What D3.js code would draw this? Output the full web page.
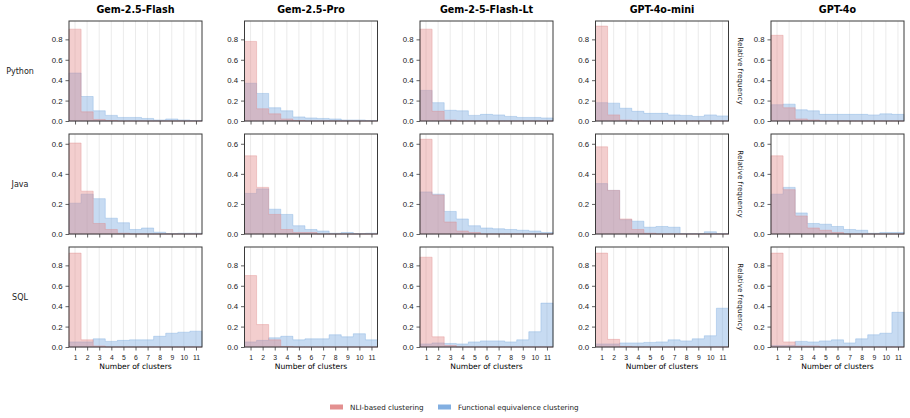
<!DOCTYPE html>
<html>
<head>
<meta charset="utf-8">
<script src="https://cdn.jsdelivr.net/npm/d3@7"></script>
<style>
  body { margin: 0; background: #fff; }
  svg { font-family: "DejaVu Sans", sans-serif; }
  .tick text { fill: #222; }
</style>
</head>
<body>
<div id="chart"></div>
<script>
// -----------------------------
// data
// -----------------------------

const models = ['Gem-2.5-Flash', 'Gem-2.5-Pro', 'Gem-2-5-Flash-Lt', 'GPT-4o-mini', 'GPT-4o']
const languages = ['Python', 'Java', 'SQL']
const bins = [1, 2, 3, 4, 5, 6, 7, 8, 9, 10, 11]
const yTicksByRow = [[0, 0.2, 0.4, 0.6, 0.8], [0, 0.2, 0.4, 0.6], [0, 0.2, 0.4, 0.6, 0.8]]
const yMaxByRow = [0.98, 0.665, 0.98]

// NLI-based clustering, one row per model
const nliPython = [
    [0.90, 0.09, 0.015, 0.005, 0, 0, 0, 0, 0, 0, 0],
    [0.78, 0.12, 0.07, 0.02, 0.005, 0, 0, 0, 0, 0, 0],
    [0.90, 0.095, 0.01, 0, 0, 0, 0, 0, 0, 0, 0],
    [0.93, 0.06, 0.01, 0, 0, 0, 0, 0, 0, 0, 0],
    [0.84, 0.13, 0.02, 0.01, 0, 0, 0, 0, 0, 0, 0]
]
const nliJava = [
    [0.605, 0.285, 0.07, 0.03, 0.005, 0, 0, 0, 0, 0, 0],
    [0.52, 0.31, 0.13, 0.03, 0.01, 0.01, 0, 0, 0, 0, 0],
    [0.63, 0.26, 0.08, 0.02, 0.01, 0, 0, 0, 0, 0, 0],
    [0.58, 0.29, 0.10, 0.03, 0.005, 0, 0, 0, 0, 0, 0],
    [0.52, 0.295, 0.12, 0.04, 0.025, 0.01, 0, 0, 0, 0, 0]
]
const nliSql = [
    [0.92, 0.07, 0.01, 0, 0, 0, 0, 0, 0, 0, 0],
    [0.70, 0.22, 0.07, 0.005, 0, 0, 0, 0, 0, 0, 0],
    [0.88, 0.10, 0.015, 0, 0, 0, 0, 0, 0, 0, 0],
    [0.92, 0.075, 0.005, 0, 0, 0, 0, 0, 0, 0, 0],
    [0.92, 0.05, 0.01, 0.01, 0, 0, 0, 0, 0, 0, 0]
]

// Functional equivalence clustering, one row per model
const fecPython = [
    [0.47, 0.24, 0.10, 0.055, 0.035, 0.035, 0.025, 0.01, 0.02, 0.01, 0.005],
    [0.37, 0.27, 0.13, 0.10, 0.04, 0.03, 0.025, 0.02, 0.01, 0.01, 0.005],
    [0.30, 0.18, 0.105, 0.10, 0.055, 0.065, 0.06, 0.045, 0.035, 0.035, 0.03],
    [0.18, 0.175, 0.125, 0.095, 0.075, 0.075, 0.06, 0.055, 0.045, 0.06, 0.05],
    [0.16, 0.165, 0.11, 0.10, 0.065, 0.065, 0.065, 0.065, 0.06, 0.07, 0.065]
]
const fecJava = [
    [0.205, 0.265, 0.235, 0.105, 0.075, 0.03, 0.04, 0.012, 0.003, 0.005, 0.005],
    [0.27, 0.30, 0.165, 0.13, 0.055, 0.03, 0.02, 0.005, 0.01, 0.003, 0.005],
    [0.28, 0.265, 0.15, 0.10, 0.055, 0.04, 0.035, 0.03, 0.025, 0.02, 0.01],
    [0.335, 0.29, 0.095, 0.085, 0.045, 0.05, 0.045, 0.003, 0.003, 0.015, 0.003],
    [0.265, 0.31, 0.14, 0.07, 0.065, 0.05, 0.03, 0.025, 0.005, 0.01, 0.01]
]
const fecSql = [
    [0.05, 0.05, 0.08, 0.055, 0.065, 0.07, 0.07, 0.105, 0.135, 0.145, 0.155],
    [0.05, 0.065, 0.09, 0.105, 0.07, 0.08, 0.08, 0.12, 0.10, 0.13, 0.07],
    [0.03, 0.04, 0.035, 0.03, 0.05, 0.06, 0.06, 0.05, 0.07, 0.15, 0.43],
    [0.03, 0.03, 0.04, 0.04, 0.045, 0.05, 0.07, 0.06, 0.08, 0.11, 0.38],
    [0.015, 0.015, 0.055, 0.05, 0.06, 0.07, 0.04, 0.08, 0.12, 0.135, 0.34]
]

const nliByRow = [nliPython, nliJava, nliSql]
const fecByRow = [fecPython, fecJava, fecSql]

// -----------------------------
// layout
// -----------------------------

const W = 910, H = 418
const colours = {pink: '#e08484', blue: '#74a6de', spine: '#3a3a3a', grid: '#e6e6e6'}
const panel = {left: 69, top: 21, w: 133, h: 100, dx: 175.5, dy: 113}

const svg = d3.select('#chart').append('svg')
    .attr('width', W)
    .attr('height', H)

const x = d3.scaleLinear().domain([0.5, 11.5]).range([0, panel.w])

function stepArea(y) {
    return d3.area()
        .x(d => x(d[0]))
        .y0(y(0))
        .y1(d => y(d[1]))
        .curve(d3.curveStepAfter)
}

function drawHist(g, values, y, colour) {
    const pts = values.map((v, i) => [bins[i] - 0.5, v])
    pts.push([bins[bins.length - 1] + 0.5, values[values.length - 1]])
    g.append('path')
        .attr('d', stepArea(y)(pts))
        .attr('fill', colour)
        .attr('fill-opacity', 0.4)
        .attr('stroke', colour)
        .attr('stroke-opacity', 0.35)
        .attr('stroke-width', 1)
}

languages.forEach((lang, r) => {
    const y = d3.scaleLinear().domain([0, yMaxByRow[r]]).range([panel.h, 0])

    models.forEach((model, c) => {
        const g = svg.append('g')
            .attr('transform', `translate(${panel.left + c * panel.dx},${panel.top + r * panel.dy})`)

        // vertical grid
        g.append('g').selectAll('line')
            .data(bins)
            .join('line')
            .attr('x1', d => x(d)).attr('x2', d => x(d))
            .attr('y1', 0).attr('y2', panel.h)
            .attr('stroke', colours.grid)
            .attr('stroke-width', 0.8)

        drawHist(g, fecByRow[r][c], y, colours.blue)
        drawHist(g, nliByRow[r][c], y, colours.pink)

        // axes
        const xAxis = d3.axisBottom(x).tickValues(bins).tickSize(3.5).tickSizeOuter(0)
        if (r < 2) xAxis.tickFormat('')
        const gx = g.append('g')
            .attr('transform', `translate(0,${panel.h})`)
            .call(xAxis)
        gx.selectAll('text').attr('font-size', 6.8).attr('dy', '0.9em')

        const gy = g.append('g')
            .call(d3.axisLeft(y).tickValues(yTicksByRow[r]).tickFormat(d3.format('.1f')).tickSize(3.5).tickSizeOuter(0))
        gy.selectAll('text').attr('font-size', 7.8)

        g.selectAll('.domain').remove()
        g.selectAll('.tick line').attr('stroke', colours.spine).attr('stroke-width', 0.8)

        g.append('rect')
            .attr('width', panel.w).attr('height', panel.h)
            .attr('fill', 'none')
            .attr('stroke', colours.spine)
            .attr('stroke-width', 1)

        if (r === 0) {
            g.append('text')
                .attr('x', panel.w / 2).attr('y', -8)
                .attr('text-anchor', 'middle')
                .attr('font-size', 9.6)
                .attr('font-weight', 'bold')
                .text(model)
        }
        if (r === 2) {
            g.append('text')
                .attr('x', panel.w / 2).attr('y', panel.h + 22)
                .attr('text-anchor', 'middle')
                .attr('font-size', 7.6)
                .text('Number of clusters')
        }
    })

    // row label
    svg.append('text')
        .attr('x', 20).attr('y', panel.top + r * panel.dy + panel.h / 2 + 3)
        .attr('text-anchor', 'middle')
        .attr('font-size', 8)
        .attr('fill', '#222')
        .text(lang)

    // right-side axis label
    svg.append('text')
        .attr('transform', `translate(738,${panel.top + r * panel.dy + panel.h / 2}) rotate(90)`)
        .attr('text-anchor', 'middle')
        .attr('font-size', 7.2)
        .attr('fill', '#222')
        .text('Relative frequency')
})

// -----------------------------
// legend
// -----------------------------

const legendItems = [
    {label: 'NLI-based clustering', colour: colours.pink, x: 330},
    {label: 'Functional equivalence clustering', colour: colours.blue, x: 438}
]

const lg = svg.append('g').attr('transform', 'translate(0,404.5)')
lg.selectAll('rect')
    .data(legendItems)
    .join('rect')
    .attr('x', d => d.x).attr('y', 0)
    .attr('width', 13).attr('height', 5)
    .attr('fill', d => d.colour)
    .attr('fill-opacity', 0.9)
lg.selectAll('text')
    .data(legendItems)
    .join('text')
    .attr('x', d => d.x + 20).attr('y', 5.5)
    .attr('font-size', 7.2)
    .attr('fill', '#222')
    .text(d => d.label)
</script>
</body>
</html>
